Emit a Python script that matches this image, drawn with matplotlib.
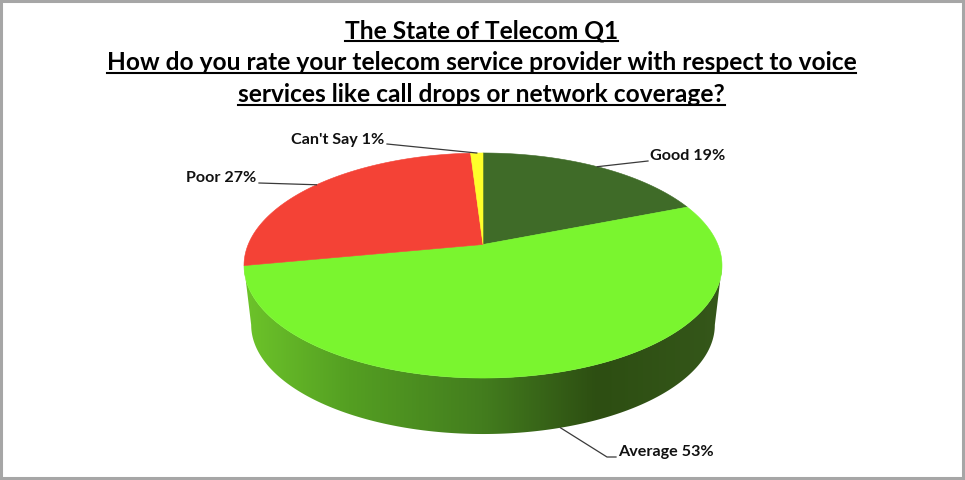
"""The State of Telecom Q1: perspective 3D pie drawn on a pixel-sized axes."""
import numpy as np
import matplotlib
matplotlib.use("Agg")
import matplotlib.pyplot as plt
from matplotlib.colors import LinearSegmentedColormap
from matplotlib.patches import Polygon

categories = ["Good", "Average", "Poor", "Can't Say"]
shares = [19, 53, 27, 1]
colors = ["#3F6B28", "#7AF52F", "#F44236", "#FFFF2A"]
title_lines = [
    "The State of Telecom Q1",
    "How do you rate your telecom service provider with respect to voice",
    "services like call drops or network coverage?",
]

plt.rcParams["font.family"] = ["Lato", "DejaVu Sans"]
plt.rcParams["font.weight"] = "bold"

# pie geometry in pixels
CX, CY, W, H, K = 483, 244.5, 234.8, 108.6, 0.1867
BOTTOM_Y, BOTTOM_SCALE = 304.5, 0.97


def project(angle, cy=CY, scale=1.0):
    """Map clockwise-from-top angles (degrees) on the disc to screen pixels."""
    rad = np.radians(angle)
    u, v = np.sin(rad), np.cos(rad)
    w = 1 + K * v
    return CX + scale * W * u / w, cy - scale * H * v / w


fig = plt.figure(figsize=(9.65, 4.8), dpi=100)
ax = fig.add_axes([0, 0, 1, 1])
ax.set_xlim(0, 965)
ax.set_ylim(480, 0)
ax.axis("off")

# outer frame
ax.add_patch(plt.Rectangle((1, 1), 962, 477, fill=False, ec="#A6A6A6", lw=2.2))

# side wall with the horizontal shading of the front
tangent = np.degrees(np.arccos(-K))
front = np.linspace(tangent, 360 - tangent, 200)
top_x, top_y = project(front)
bot_x, bot_y = project(front, BOTTOM_Y, BOTTOM_SCALE)
wall = Polygon(np.r_[np.c_[top_x, top_y], np.c_[bot_x, bot_y][::-1]], closed=True,
               fc="none", ec="none")
ax.add_patch(wall)
wall_cmap = LinearSegmentedColormap.from_list(
    "wall",
    [(0.0, "#6DC42A"), (0.22, "#549F22"), (0.5, "#437D1E"), (0.74, "#2D4E12"), (1.0, "#35571A")],
)
grad = ax.imshow(np.linspace(0, 1, 256)[None, :], cmap=wall_cmap, aspect="auto",
                 extent=(243, 722, 440, 260), zorder=1)
grad.set_clip_path(wall)
ax.set_xlim(0, 965)
ax.set_ylim(480, 0)

# top face, one slice per share
edges = np.cumsum([0] + shares) * 3.6
for start, stop, color in zip(edges[:-1], edges[1:], colors):
    x, y = project(np.linspace(start, stop, 200))
    ax.add_patch(Polygon(np.r_[[[CX, CY]], np.c_[x, y]], closed=True, fc=color,
                         ec=color, lw=0.4, zorder=2))

# labels with leader lines starting at each slice's middle angle
label_pos = {"Good": (650, 156), "Average": (618, 452), "Poor": (256, 178), "Can't Say": (384, 140)}
elbow = {"Good": (648, 161), "Average": (607, 457), "Poor": (259, 183), "Can't Say": (387, 144)}
for name, share, start, stop in zip(categories, shares, edges[:-1], edges[1:]):
    mid = (start + stop) / 2
    on_wall = name == "Average"
    ax_, ay_ = project(mid, BOTTOM_Y, BOTTOM_SCALE) if on_wall else project(mid)
    ex, ey = elbow[name]
    xs, ys = [ax_, ex], [ay_, ey]
    if on_wall:
        xs.append(616)
        ys.append(ey)
    ax.plot(xs, ys, color="#3A3A3A", lw=0.9, zorder=3)
    tx, ty = label_pos[name]
    ha = "right" if name in ("Poor", "Can't Say") else "left"
    ax.text(tx, ty, f"{name} {share}%", ha=ha, va="center", fontsize=11.6, color="#111111")

# title, underlined by hand because text has no underline option
renderer = fig.canvas.get_renderer()
for line, y, rule_y in zip(title_lines, [38, 70, 102], [40.5, 73, 105]):
    t = ax.text(481.5, y, line, ha="center", va="baseline", fontsize=17.65, color="black")
    box = t.get_window_extent(renderer).transformed(ax.transData.inverted())
    ax.plot([box.x0, box.x1], [rule_y, rule_y], color="black", lw=1.5)

fig.savefig("out.png", dpi=100, facecolor="white")
